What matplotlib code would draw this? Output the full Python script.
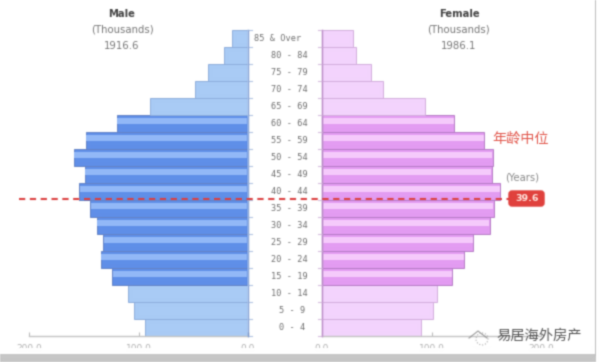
import numpy as np
import matplotlib
matplotlib.use("Agg")
import matplotlib.pyplot as plt
from matplotlib.patches import FancyBboxPatch, Rectangle

plt.rcParams['font.family'] = ['DejaVu Sans', 'Noto Sans CJK SC']

age_labels = ["0 - 4", "5 - 9", "10 - 14", "15 - 19", "20 - 24", "25 - 29", "30 - 34", "35 - 39",
              "40 - 44", "45 - 49", "50 - 54", "55 - 59", "60 - 64", "65 - 69", "70 - 74",
              "75 - 79", "80 - 84", "85 & Over"]
male = [94.5, 104, 110, 124, 134.5, 132, 138, 144, 154, 149, 159, 148, 120, 89.5, 48.5, 36.5, 22, 15]
female = [90, 101, 105, 119, 130, 138, 153, 157, 163, 155, 156, 148, 121, 94, 56, 45, 31.5, 28]
highlight = [False, False, False, True, True, True, True, True, True, True, True, True, True,
             False, False, False, False, False]
x_ticks = [0, 100, 200]
x_tick_labels = ["0.0", "100.0", "200.0"]

W, H = 599, 362
fig = plt.figure(figsize=(W / 100, H / 100), dpi=100)


def blur(img, dpi, sigma=0.65, pad=4):
    """Soft focus matching the blurry screenshot (premultiplied gaussian)."""
    img = np.pad(img, ((pad, pad), (pad, pad), (0, 0)))
    a = img[..., 3:4]
    out = np.concatenate([img[..., :3] * a, a], axis=2)
    xs = np.arange(-pad, pad + 1)
    k = np.exp(-xs ** 2 / (2 * sigma ** 2))
    k /= k.sum()
    for axis in (0, 1):
        out = np.apply_along_axis(lambda m: np.convolve(m, k, mode="same"), axis, out)
    alpha = out[..., 3:4]
    rgb = np.where(alpha > 1e-4, out[..., :3] / np.maximum(alpha, 1e-4), 0)
    return np.clip(np.concatenate([rgb, alpha], axis=2), 0, 1), -pad, -pad


def make_axes(x0, x1):
    return fig.add_axes([x0 / W, 1 - 336 / H, (x1 - x0) / W, (336 - 30) / H])


axL = make_axes(29, 248)
axR = make_axes(322, 541)
axL.set_xlim(200, 0)
axR.set_xlim(0, 200)

styles = {
    axL: dict(vals=male, light="#a9cbf5", dark="#5f8fe8", band="#93b9f8", edge="#6583c6", light_edge="#8eaedd"),
    axR: dict(vals=female, light="#f3d4fd", dark="#e39cf2", band="#f6cbfc", edge="#b67cc6", light_edge="#d3aedd"),
}
ys = list(range(len(age_labels)))
for ax, s in styles.items():
    ax.set_ylim(-0.5, 17.5)
    ax.patch.set_alpha(0)
    for sp in ax.spines.values():
        sp.set_visible(False)
    ax.yaxis.set_visible(False)
    ax.set_xticks(x_ticks)
    ax.set_xticklabels(x_tick_labels, fontsize=6.5, color="#b0b0b0")
    ax.tick_params(axis="x", length=3, width=0.8, color="#bbbbbb", pad=6, direction="in")
    ax.spines["bottom"].set_visible(True)
    ax.spines["bottom"].set_color("#c4c4c4")
    ax.spines["bottom"].set_linewidth(1.0)
    for y, v, hi in zip(ys, s["vals"], highlight):
        ax.barh(y, v, height=1.0, color=s["dark"] if hi else s["light"],
                edgecolor=s["edge"] if hi else s["light_edge"], linewidth=0.7, zorder=2)
        if hi:
            ax.barh(y + 0.15, v - 1.0, height=0.32, left=0.5, color=s["band"], linewidth=0, zorder=3)
    ax.set_agg_filter(blur)

ov = fig.add_axes([0, 0, 1, 1], zorder=5)
ov.set_xlim(0, W)
ov.set_ylim(H, 0)
ov.axis("off")
ov.patch.set_alpha(0)
ov.set_agg_filter(blur)

for i in range(19):
    yy = 30 + 17 * i
    ov.plot([248, 252], [yy, yy], color="#b4c6e4", lw=0.8)
    ov.plot([318, 322], [yy, yy], color="#d8bfe0", lw=0.8)
ov.plot([248, 248], [30, 336], color="#7f9fd6", lw=1.0)
ov.plot([322, 322], [30, 336], color="#c49ad0", lw=1.0)

for i, lab in enumerate(age_labels):
    cx = 278 if "Over" in lab else (292 if len(lab) == 5 else 289.5)
    ov.text(cx, 327.5 - 17 * i, lab, ha="center", va="center", fontsize=6.2,
            color="#6f6f6f", family=["DejaVu Sans Mono"])

for cx, name, val in [(122, "Male", "1916.6"), (459, "Female", "1986.1")]:
    ov.text(cx, 14, name, ha="center", va="center", fontsize=7.2, color="#444444", fontweight="bold")
    ov.text(cx, 30, "(Thousands)", ha="center", va="center", fontsize=7.3, color="#777777")
    ov.text(cx, 46, val, ha="center", va="center", fontsize=7.3, color="#777777")

ov.plot([19, 509], [198.7, 198.7], color="#dc3f3f", lw=1.5, dashes=(3.0, 2.2), zorder=6)
ov.add_patch(FancyBboxPatch((509, 191), 35, 15, boxstyle="round,pad=0,rounding_size=3",
                            fc="#e0403c", ec="#e0403c", lw=1, zorder=7))
ov.text(527, 198.5, "39.6", ha="center", va="center", fontsize=6.8, color="#ffe6e0", fontweight="bold", zorder=8)
ov.text(522, 178, "(Years)", ha="center", va="center", fontsize=7.2, color="#888888")
ov.text(521, 139, "年龄中位", ha="center", va="center", fontsize=10.2, color="#e2574c",
        family=["Noto Sans CJK SC"])

ov.add_patch(Rectangle((0, 347.5), W, 15, fc="white", ec="none", zorder=9))
ov.add_patch(Rectangle((0, 354), 596, 8, fc="#c6c6c6", ec="none", zorder=10))
ov.add_patch(Rectangle((594.5, 0), 1.5, 356, fc="#bdbdbd", ec="none", zorder=10))

ov.plot([469, 473, 478, 483, 487], [338, 335, 331, 335, 338], color="#999999", lw=0.8, zorder=11)
ov.add_patch(plt.Circle((482, 339), 6, fc="none", ec="#aaaaaa", lw=0.8, ls=":", zorder=11))
ov.text(539.5, 336, "易居海外房产", ha="center", va="center", fontsize=10.3, color="#555555",
        family=["Noto Sans CJK SC"], zorder=11)

fig.savefig("out.png", dpi=100)
